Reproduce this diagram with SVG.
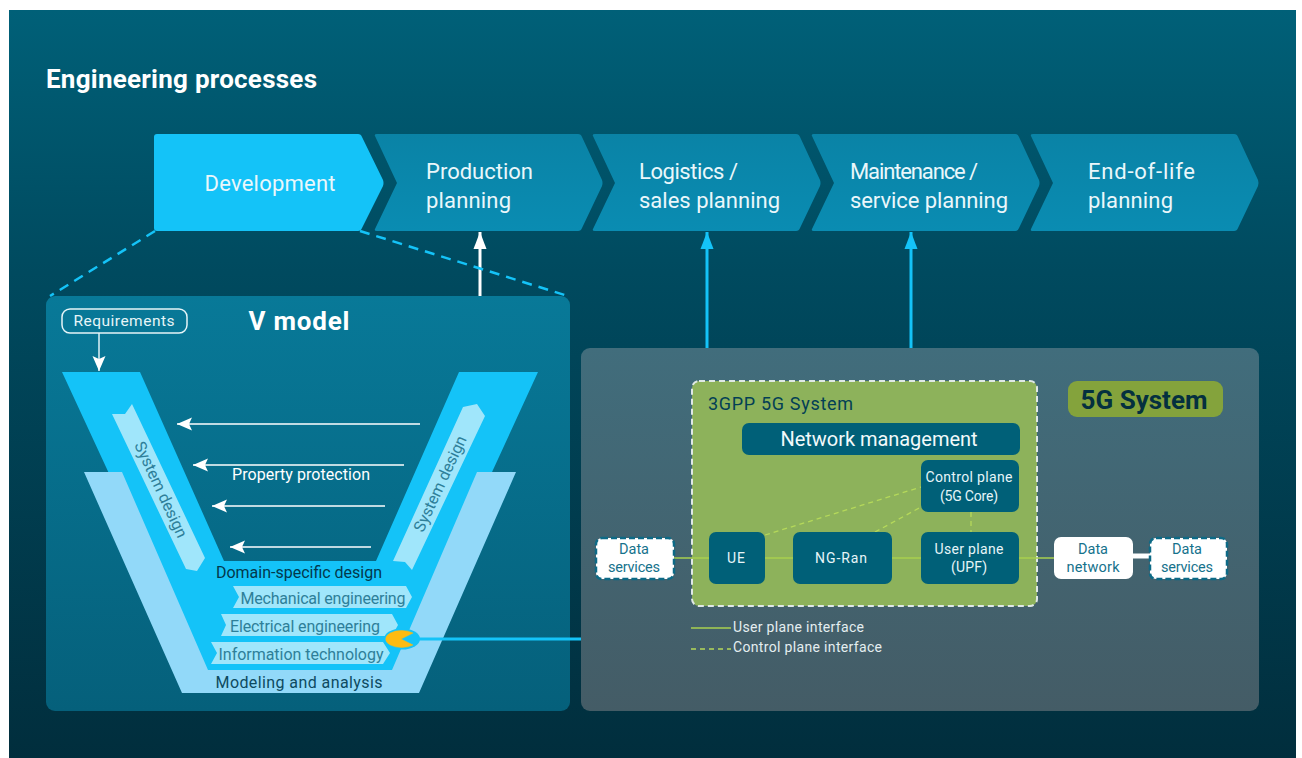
<svg xmlns="http://www.w3.org/2000/svg" width="1302" height="758" viewBox="0 0 1302 758">
<defs>
<linearGradient id="bg" x1="0" y1="0" x2="0" y2="1"><stop offset="0" stop-color="#006078"/><stop offset="0.35" stop-color="#004a5f"/><stop offset="1" stop-color="#012e3d"/></linearGradient>
<linearGradient id="vp" x1="0" y1="0" x2="0" y2="1"><stop offset="0" stop-color="#087998"/><stop offset="1" stop-color="#05607b"/></linearGradient>
<linearGradient id="gp" x1="0" y1="0" x2="0" y2="1"><stop offset="0" stop-color="#416d7c"/><stop offset="1" stop-color="#445c66"/></linearGradient>
<linearGradient id="ch" x1="0" y1="0" x2="0" y2="1"><stop offset="0" stop-color="#0a83a6"/><stop offset="1" stop-color="#0a8cb2"/></linearGradient>
<marker id="aw" markerUnits="userSpaceOnUse" markerWidth="16" markerHeight="16" refX="15" refY="8" orient="auto"><path d="M0,1.5 L15,8 L0,14.5 L3,8 Z" fill="#fff"/></marker>
<marker id="ac" markerUnits="userSpaceOnUse" markerWidth="18" markerHeight="16" refX="17" refY="8" orient="auto"><path d="M0,1.5 L17,8 L0,14.5 Z" fill="#14c3f8"/></marker>
<marker id="au" markerUnits="userSpaceOnUse" markerWidth="18" markerHeight="16" refX="17" refY="8" orient="auto"><path d="M0,1.5 L17,8 L0,14.5 Z" fill="#fff"/></marker>
</defs>
<style>
text{font-family:"Roboto","Liberation Sans",sans-serif}
.w{fill:#fff}.m{text-anchor:middle}
.ch{fill:url(#ch)}
.c18{font-size:22px;fill:#eaf7fb}
.box{fill:#006078}
.bt{font-size:14px;fill:#e6f5f8;text-anchor:middle}
.dt{font-size:14.5px;fill:#16728c;text-anchor:middle}
.rib{fill:#a0e6fb}
.rt{font-size:16px;fill:#2e7f99;text-anchor:middle}
.ds{fill:#fff;stroke:#0d6a86;stroke-width:2.5;stroke-dasharray:6 3}
.up{stroke:#a8d04f;stroke-width:1.5;fill:none}
.cp{stroke:#b5d95a;stroke-width:1.3;stroke-dasharray:5 4;fill:none}
.lg{font-size:14px;fill:#e4eef0}
</style>
<rect width="1302" height="758" fill="#fff"/>
<rect x="9" y="10" width="1287" height="748" fill="url(#bg)"/>
<text id="title" x="46" y="88" font-size="26" font-weight="700" class="w" textLength="271">Engineering processes</text>
<g id="panel-v"><rect x="46" y="296" width="524" height="415" rx="9" fill="url(#vp)"/></g>
<g id="panel-5g"><rect x="581" y="348" width="678" height="363" rx="9" fill="url(#gp)"/></g>
<g id="connectors">
<path d="M480,296 V232" stroke="#fff" stroke-width="3" marker-end="url(#au)"/>
<path d="M155,231 L50,296 M360,231 L568,296" stroke="#14c3f8" stroke-width="2.5" stroke-dasharray="10 7" fill="none"/>
<path d="M707,348 V232" stroke="#14c3f8" stroke-width="3" marker-end="url(#ac)"/>
<path d="M911,348 V232" stroke="#14c3f8" stroke-width="3" marker-end="url(#ac)"/>
<path d="M99,333 V371" stroke="#dff3f8" stroke-width="1.5" marker-end="url(#aw)"/>
<path d="M420,424 H177" stroke="#fff" stroke-width="1.5" marker-end="url(#aw)"/>
<path d="M404,465 H193" stroke="#fff" stroke-width="1.5" marker-end="url(#aw)"/>
<path d="M385,506 H212" stroke="#fff" stroke-width="1.5" marker-end="url(#aw)"/>
<path d="M371,547 H230" stroke="#fff" stroke-width="1.5" marker-end="url(#aw)"/>
</g>
<g id="step-development"><path d="M157,134 H358 Q361,134 362,137 L383,180 Q384,183 383,186 L362,228 Q361,231 358,231 H157 Q154,231 154,228 V137 Q154,134 157,134 Z" fill="#14c3f8"/><text class="c18 m" x="270" y="191" textLength="131">Development</text></g>
<g id="step-production"><path d="M377,134 H578 Q581,134 582,137 L602,180 Q603,183 602,186 L582,228 Q581,231 578,231 H377 Q374,231 375,229 L397,183 L375,136 Q374,134 377,134 Z" class="ch"/><text class="c18" x="426" y="179" textLength="107">Production</text><text class="c18" x="426" y="208" textLength="85">planning</text></g>
<g id="step-logistics"><path d="M595,134 H796 Q799,134 800,137 L820,180 Q821,183 820,186 L800,228 Q799,231 796,231 H595 Q592,231 593,229 L615,183 L593,136 Q592,134 595,134 Z" class="ch"/><text class="c18" x="639" y="179" textLength="99">Logistics /</text><text class="c18" x="639" y="208" textLength="141">sales planning</text></g>
<g id="step-maintenance"><path d="M814,134 H1015 Q1018,134 1019,137 L1039,180 Q1040,183 1039,186 L1019,228 Q1018,231 1015,231 H814 Q811,231 812,229 L834,183 L812,136 Q811,134 814,134 Z" class="ch"/><text class="c18" x="850" y="179" textLength="128">Maintenance /</text><text class="c18" x="850" y="208" textLength="158">service planning</text></g>
<g id="step-eol"><path d="M1033,134 H1234 Q1237,134 1238,137 L1258,180 Q1259,183 1258,186 L1238,228 Q1237,231 1234,231 H1033 Q1030,231 1031,229 L1053,183 L1031,136 Q1030,134 1033,134 Z" class="ch"/><text class="c18" x="1088" y="179" textLength="107">End-of-life</text><text class="c18" x="1088" y="208" textLength="85">planning</text></g>
<g id="v-model">
<text x="299" y="330" font-size="26" font-weight="700" class="w m" textLength="101">V model</text>
<g id="requirements"><rect x="62" y="309" width="125" height="24" rx="8" fill="none" stroke="#e6f5f8" stroke-width="1.5"/><text x="124" y="326" font-size="15.5" fill="#e6f5f8" class="m" textLength="101">Requirements</text></g>
<polygon points="62,372 140,372 224,561 376,561 459,372 538,372 401,670 200,670" fill="#14c3f8"/>
<polygon points="84,472 122,472 208,670 392,670 477,472 516,472 419,693 182,693" fill="#92d9f9"/>
<polygon class="rib" points="112,414 125,414 132,404 205,558 197,571 186,569"/>
<polygon class="rib" points="463,407 477,404 485,416 412,570 405,562 393,561"/>
<text class="rt" transform="translate(156,492) rotate(65)" textLength="104">System design</text>
<text class="rt" transform="translate(445,486) rotate(-65)" textLength="104">System design</text>
<text x="301" y="480" font-size="16" class="w m" textLength="138">Property protection</text>
<text x="299" y="578" font-size="16" fill="#03384c" class="m" textLength="166">Domain-specific design</text>
<polygon class="rib" points="233,586 406,586 412,597 406,608 233,608 239,597"/>
<polygon class="rib" points="221,614 392,614 398,625 392,636 221,636 226,625"/>
<polygon class="rib" points="211,642 383,642 390,653 383,664 211,664 217,653"/>
<text class="rt" x="323" y="604" textLength="165">Mechanical engineering</text>
<text class="rt" x="305" y="632" textLength="150">Electrical engineering</text>
<text class="rt" x="301" y="660" textLength="165">Information technology</text>
<text x="299" y="688" font-size="16" fill="#0d4a60" class="m" textLength="167">Modeling and analysis</text>
<path d="M415,639 H581" stroke="#14c3f8" stroke-width="3"/>
<ellipse cx="402" cy="639" rx="18" ry="10.5" fill="#14c3f8"/>
<path d="M413,633 A16,8.5 0 1 0 413,645 L401,639 Z" fill="#fdbb11" stroke="#fdbb11" stroke-width="0.5"/>
</g>
<g id="badge-5g"><rect x="1068" y="381" width="155" height="36" rx="9" fill="#84a33c"/><text x="1144" y="409" font-size="26" font-weight="700" fill="#04303f" class="m" textLength="127">5G System</text></g>
<g id="system-3gpp"><rect x="692" y="381" width="345" height="225" rx="7" fill="#8db25b" stroke="#dfe8e6" stroke-width="2" stroke-dasharray="6 4"/><text x="708" y="410" font-size="18" fill="#033f55" textLength="145">3GPP 5G System</text></g>
<g id="links">
<path class="up" d="M674,558 H709 M765,558 H793 M892,558 H921 M1019,558 H1054"/>
<path class="cp" d="M765,535 L921,487 M875,532 L921,507 M971,512 V532"/>
<path d="M1133,556 H1150" stroke="#fff" stroke-width="5"/>
</g>
<g id="network-management"><rect class="box" x="742" y="423" width="278" height="32" rx="7"/><text x="879" y="446" font-size="20" fill="#f2fafb" class="m" textLength="197">Network management</text></g>
<g id="control-plane"><rect class="box" x="921" y="460" width="98" height="52" rx="7"/><text class="bt" x="969" y="482" textLength="87">Control plane</text><text class="bt" x="969" y="501" textLength="58">(5G Core)</text></g>
<g id="user-plane"><rect class="box" x="921" y="532" width="98" height="52" rx="7"/><text class="bt" x="969" y="554" textLength="69">User plane</text><text class="bt" x="969" y="572" textLength="36">(UPF)</text></g>
<g id="ue"><rect class="box" x="709" y="532" width="56" height="52" rx="7"/><text class="bt" x="736" y="563" textLength="18">UE</text></g>
<g id="ng-ran"><rect class="box" x="793" y="532" width="99" height="52" rx="7"/><text class="bt" x="841" y="563" textLength="52">NG-Ran</text></g>
<g id="data-services-left"><rect class="ds" x="596" y="538" width="78" height="41" rx="6"/><text class="dt" x="634" y="554" textLength="30">Data</text><text class="dt" x="634" y="572" textLength="52">services</text></g>
<g id="data-network"><rect x="1054" y="537" width="79" height="42" rx="7" fill="#fff"/><text class="dt" x="1093" y="554" textLength="30">Data</text><text class="dt" x="1093" y="572" textLength="53">network</text></g>
<g id="data-services-right"><rect class="ds" x="1150" y="538" width="77" height="41" rx="6"/><text class="dt" x="1187" y="554" textLength="30">Data</text><text class="dt" x="1187" y="572" textLength="52">services</text></g>
<g id="legend">
<path class="up" d="M691,628 H731"/><path class="cp" d="M691,649 H731"/>
<text class="lg" x="733" y="632" textLength="131">User plane interface</text>
<text class="lg" x="733" y="652" textLength="149">Control plane interface</text>
</g>
</svg>
